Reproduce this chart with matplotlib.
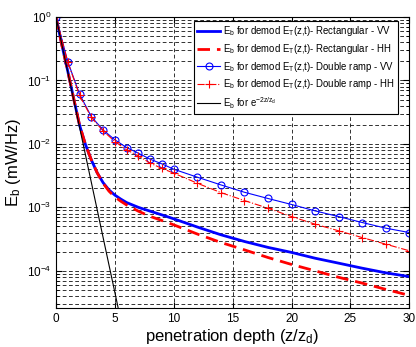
import matplotlib
matplotlib.use("Agg")
import matplotlib.pyplot as plt
import numpy as np

plt.rcParams['font.family'] = ['Liberation Sans', 'DejaVu Sans']
plt.rcParams['mathtext.fontset'] = 'custom'
plt.rcParams['mathtext.rm'] = 'Liberation Sans'
plt.rcParams['mathtext.it'] = 'Liberation Sans'

# rectangular pulse curves
rect_x = [0, 0.5, 1, 1.5, 2, 2.5, 3, 3.5, 4, 4.5, 5, 5.5, 6, 7, 8, 9, 10,
          12, 14, 16, 18, 20, 22, 24, 26, 28, 30]
rect_vv = [1.0, 0.36, 0.14, 0.052, 0.0198, 0.0098, 0.0056, 0.0035, 0.00245,
           0.00188, 0.00156, 0.00135, 0.00119, 0.00100, 0.00087, 0.00076,
           0.00066, 0.00049, 0.00037, 0.00029, 0.000234, 0.000195, 0.000158,
           0.000132, 0.000110, 0.000093, 0.000081]
rect_hh = [1.0, 0.36, 0.14, 0.052, 0.0198, 0.0098, 0.0056, 0.0035, 0.00240,
           0.00180, 0.00146, 0.00125, 0.00109, 0.00087, 0.00072, 0.00062,
           0.00053, 0.00038, 0.00028, 0.000214, 0.000162, 0.000126, 0.000100,
           0.000079, 0.000064, 0.000051, 0.000041]

# double ramp curves
ramp_x = [0, 1, 2, 3, 4, 5, 6, 7, 8, 9, 10, 12, 14, 16, 18, 20, 22, 24, 26, 28, 30]
ramp_vv = [1.0, 0.198, 0.061, 0.0269, 0.0166, 0.0116, 0.00875, 0.00713, 0.00574,
           0.00484, 0.00399, 0.00299, 0.00226, 0.00173, 0.00138, 0.00111,
           0.00088, 0.000716, 0.000577, 0.00047, 0.000401]
ramp_hh = [1.0, 0.195, 0.058, 0.0262, 0.0160, 0.0109, 0.00805, 0.00647, 0.00497,
           0.00411, 0.00346, 0.00240, 0.00171, 0.00128, 0.00097, 0.000716,
           0.000543, 0.000427, 0.000334, 0.000263, 0.000207]

# e^{-2z/zd} reference
exp_x = [0, 1, 2, 3, 4, 5, 6]
exp_y = [1.0, 0.135, 0.0183, 0.00248, 3.35e-4, 4.54e-5, 6.14e-6]

fig = plt.figure(figsize=(4.16, 3.47), dpi=100)
ax = fig.add_axes([0.1346, 0.111, 0.8494, 0.840])

ax.semilogy(rect_x, rect_vv, '-', color='blue', lw=2.0,
            label=r'$\mathregular{E_b}$ for demod $\mathregular{E_T}$(z,t)- Rectangular - VV')
ax.semilogy(rect_x, rect_hh, '--', color='red', lw=2.0, dashes=(4.5, 2.5),
            label=r'$\mathregular{E_b}$ for demod $\mathregular{E_T}$(z,t)- Rectangular - HH')
ax.semilogy(ramp_x, ramp_vv, '-', color='blue', lw=0.8, marker='o', ms=5,
            mfc='none', mec='blue', mew=0.8,
            label=r'$\mathregular{E_b}$ for demod $\mathregular{E_T}$(z,t)- Double ramp - VV')
ax.semilogy(ramp_x, ramp_hh, '-.', color='red', lw=0.8, marker='+', ms=6, mew=0.8,
            label=r'$\mathregular{E_b}$ for demod $\mathregular{E_T}$(z,t)- Double ramp - HH')
ax.semilogy(exp_x, exp_y, '-', color='black', lw=0.8,
            label=r'$\mathregular{E_b}$ for $\mathregular{e^{-2z/z_d}}$')

ax.set_xlim(0, 30)
ax.set_ylim(2.55e-5, 1)
ax.set_xticks([0, 5, 10, 15, 20, 25, 30])
ax.set_yticks([1e-4, 1e-3, 1e-2, 1e-1, 1])

ax.grid(True, which='major', ls=(0, (4.5, 3)), color='#111111', lw=0.6)
ax.grid(True, which='minor', axis='y', ls=(0, (4.5, 3)), color='#111111', lw=0.6)
ax.tick_params(which='both', direction='in', top=True, right=True, labelsize=8.5)
ax.tick_params(which='major', length=4)
ax.tick_params(which='minor', length=2)
for s in ax.spines.values():
    s.set_linewidth(0.8)

ax.set_xlabel(r'penetration depth (z/$\mathregular{z_d}$)', fontsize=12, labelpad=1)
ax.set_ylabel(r'$\mathregular{E_b}$ (mW/Hz)', fontsize=12, labelpad=3)

leg = ax.legend(loc='upper right', bbox_to_anchor=(0.967, 0.986), fontsize=6.9,
                framealpha=1, fancybox=False, edgecolor='black', handlelength=2.4,
                borderpad=0.35, labelspacing=0.38, handletextpad=0.3, borderaxespad=0)
leg.get_frame().set_linewidth(0.8)

fig.savefig('out.png', dpi=100)
